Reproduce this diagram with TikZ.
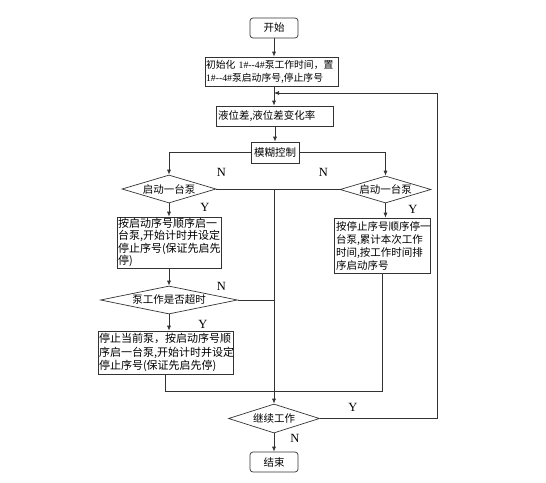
\documentclass[tikz,border=0pt]{standalone}
\usepackage{fontspec}
\setmainfont{Liberation Serif}
\newfontfamily\cjk{Noto Sans CJK SC}
\usetikzlibrary{arrows.meta, shapes.geometric}

\begin{document}
\begin{tikzpicture}[x=1pt, y=-1pt,
line width=0.7pt, draw=black!80,
box/.style={draw, rectangle, inner sep=2pt, align=left,
font=\cjk\fontsize{10.5}{13}\selectfont},
term/.style={draw, rectangle, rounded corners=3pt,
minimum width=48, minimum height=20,
font=\cjk\fontsize{10.5}{12}\selectfont},
dec/.style={draw, diamond, aspect=#1, inner sep=0pt,
font=\cjk\fontsize{10.5}{12}\selectfont},
lbl/.style={font=\fontsize{12.5}{14}\selectfont},
arrow/.style={-{Latex[length=5pt, width=4pt]}}
]
\useasboundingbox (0,0) rectangle (546,482);

\node[term] (start) at (274,28) {开始};
\node[box, text width=131, inner sep=1pt, minimum height=29,
font=\cjk\fontsize{9.8}{13}\selectfont] (init) at (271.5,71.5)
{初始化 {\rmfamily 1\#-{}-4\#}泵工作时间，置\\{\rmfamily 1\#-{}-4\#}泵启动序号,停止序号};
\node[box, text width=113, minimum height=20] (level) at (274.5,116) {液位差,液位差变化率};
\node[box, minimum width=48, minimum height=21, align=center] (fuzzy) at (275,152.5) {模糊控制};

\node[dec=3.36, minimum width=94, minimum height=28] (dleft) at (169,189) {启动一台泵};
\node[box, text width=102, inner sep=1pt, minimum height=51,
font=\cjk\fontsize{11}{12.5}\selectfont] (boxL1) at (169,242.5)
{按启动序号顺序启一\\台泵,开始计时并设定\\停止序号(保证先启先\\停)};
\node[dec=4.9, minimum width=137, minimum height=28] (dtime) at (169,300) {泵工作是否超时};
\node[box, text width=133, inner sep=1pt, minimum height=43,
font=\cjk\fontsize{11}{13.5}\selectfont] (boxL2) at (165.5,352.5)
{停止当前泵，按启动序号顺\\序启一台泵,开始计时并设定\\停止序号(保证先启先停)};

\node[dec=3.36, minimum width=91, minimum height=27] (dright) at (385.5,189.5) {启动一台泵};
\node[box, text width=92, minimum height=55] (boxR) at (382,245.5)
{按停止序号顺序停一\\台泵,累计本次工作\\时间,按工作时间排\\序启动序号};

\node[dec=3.14, minimum width=91, minimum height=29] (dcont) at (274,418.5) {继续工作};
\node[term] (end) at (274,462) {结束};

\coordinate (fb) at (274,93);
\coordinate (rt) at (437,93);
\coordinate (jc) at (274,189.5);
\coordinate (jb) at (274,391);

% main column
\draw[arrow] (start) -- (start |- init.north);
\draw[arrow] (init.south -| fb) -- (level.north -| fb);
\draw[arrow] (level.south -| fuzzy) -- (fuzzy.north);
\draw[arrow] (fuzzy.west) -| (dleft.north);
\draw[arrow] (fuzzy.east) -| (dright.north);

% left branch
\draw (dleft.east) -- (dleft.east -| jc);
\draw[arrow] (dleft.south) -- (boxL1.north);
\draw[arrow] (boxL1.south) -- (dtime.north);
\draw (dtime.east) -- (dtime.east -| jc);
\draw[arrow] (dtime.south) -- (dtime.south |- boxL2.north);
\draw (boxL2.south) |- (boxR.south |- jb) -- (boxR.south);

% right branch
\draw (dright.west) -- (jc);
\draw[arrow] (dright.south) -- (dright.south |- boxR.north);

% end part
\draw[arrow] (jc) -- (dcont.north);
\draw[arrow] (dcont.east) -| (rt) -- (fb);
\draw[arrow] (dcont.south) -- (end.north);

\node[lbl] (nL) at (221.5,172) {N};
\node[lbl] (nR) at (323.5,172) {N};
\node[lbl] (yL) at (205,207) {Y};
\node[lbl] (yR) at (413,209) {Y};
\node[lbl] (nT) at (221.5,286) {N};
\node[lbl] (yT) at (203,324) {Y};
\node[lbl] (yC) at (353,407) {Y};
\node[lbl] (nC) at (295,438) {N};

\end{tikzpicture}
\end{document}
